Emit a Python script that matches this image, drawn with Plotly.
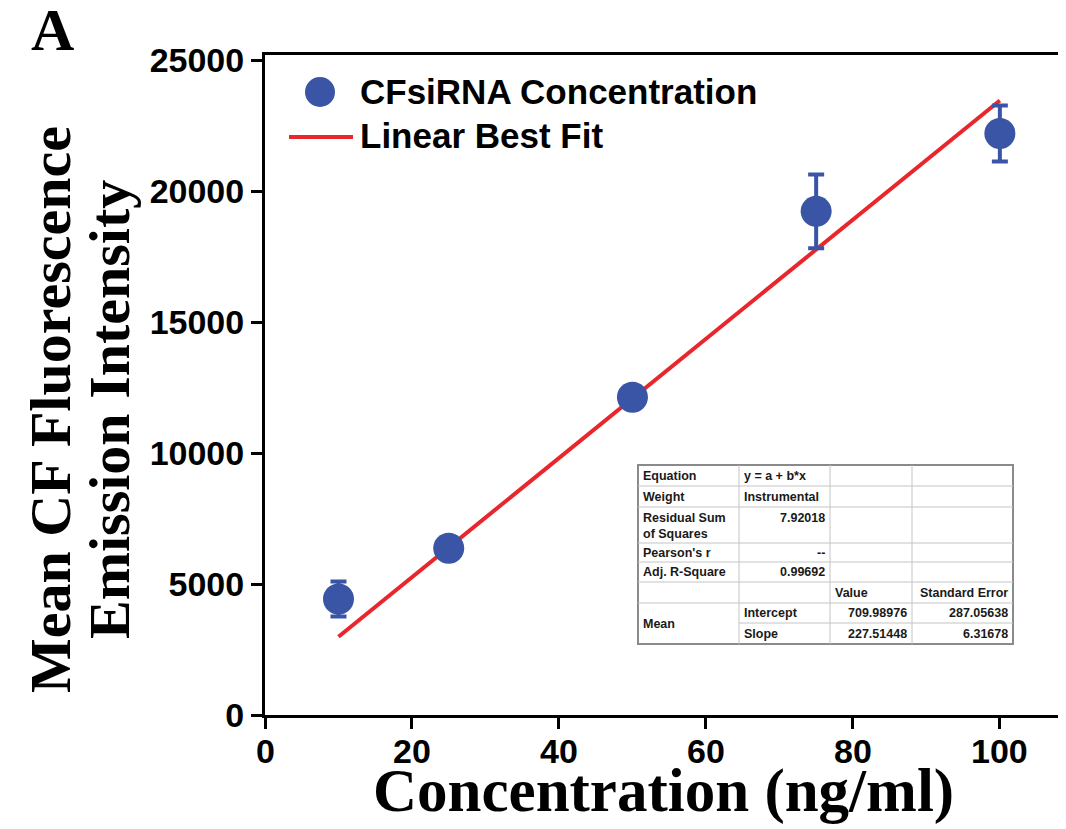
import plotly.graph_objects as go

# ---------------- data ----------------
concentration = [10, 25, 50, 75, 100]
mean_intensity = [4430, 6370, 12130, 19230, 22200]
intensity_err = [670, 150, 150, 1410, 1070]

fit_intercept = 709.98976
fit_slope = 227.51448
fit_x = [10, 100]
fit_y = [fit_intercept + fit_slope * x for x in fit_x]

x_ticks = [0, 20, 40, 60, 80, 100]
y_ticks = [0, 5000, 10000, 15000, 20000, 25000]

legend_labels = ["CFsiRNA Concentration", "Linear Best Fit"]

table_rows = [
    ["Equation", "y = a + b*x", "", ""],
    ["Weight", "Instrumental", "", ""],
    ["Residual Sum<br>of Squares", "7.92018", "", ""],
    ["Pearson's r", "--", "", ""],
    ["Adj. R-Square", "0.99692", "", ""],
    ["", "", "Value", "Standard Error"],
    ["Mean", "Intercept", "709.98976", "287.05638"],
    ["", "Slope", "227.51448", "6.31678"],
]
table_align = [
    ["left", "left", "left", "left"],
    ["left", "left", "left", "left"],
    ["left", "right", "left", "left"],
    ["left", "right", "left", "left"],
    ["left", "right", "left", "left"],
    ["left", "left", "left", "right"],
    ["left", "left", "right", "right"],
    ["left", "left", "right", "right"],
]

# ---------------- layout geometry (pixels) ----------------
OFF = 8                       # page body margin of the browser
W, H = 1066 - OFF, 829 - OFF  # figure size
L, R = 265 - OFF, 0
T = 55 - OFF
B = H - (715 - OFF)
PW, PH = W - L - R, H - T - B


def px(x_img):
    return (x_img - OFF - L) / PW


def py(y_img):
    return (H - B - (y_img - OFF)) / PH


MARK = "#3a54a6"
RED = "#e8262b"
SANS = "Liberation Sans, Arial, sans-serif"
SERIF = "Liberation Serif, Times New Roman, serif"
TICKFONT = dict(family=SANS, size=34, color="black", weight="bold")

fig = go.Figure()

fig.add_trace(go.Scatter(
    x=fit_x, y=fit_y, mode="lines", name=legend_labels[1],
    line=dict(color=RED, width=4), showlegend=False,
))
fig.add_trace(go.Scatter(
    x=concentration, y=mean_intensity, mode="markers", name=legend_labels[0],
    marker=dict(color=MARK, size=31, line=dict(width=0)),
    error_y=dict(type="data", array=intensity_err, color=MARK, thickness=4, width=8),
    showlegend=False,
))

shapes = []
annotations = []

# ---- manual legend ----
shapes.append(dict(type="circle", xref="paper", yref="paper",
                   xsizemode="pixel", ysizemode="pixel",
                   xanchor=px(320), yanchor=py(92), x0=-15, x1=15, y0=-15, y1=15,
                   fillcolor=MARK, line=dict(width=0)))
shapes.append(dict(type="line", xref="paper", yref="paper",
                   x0=px(289), x1=px(353), y0=py(137), y1=py(137),
                   line=dict(color=RED, width=4)))
for lbl, yy in zip(legend_labels, [92, 136]):
    annotations.append(dict(text=lbl, xref="paper", yref="paper", x=px(358), y=py(yy),
                            xanchor="left", yanchor="middle", showarrow=False,
                            font=dict(family=SANS, size=35, color="black", weight="bold")))

# ---- statistics table ----
col_edges = [638, 739, 830, 912, 1013]
row_edges = [465, 486, 507, 543, 562, 582, 603, 623, 644]
shapes.append(dict(type="rect", xref="paper", yref="paper",
                   x0=px(col_edges[0]), x1=px(col_edges[-1]),
                   y0=py(row_edges[0]), y1=py(row_edges[-1]),
                   fillcolor="white", line=dict(color="#8a8a8a", width=2), layer="above"))
for cx in col_edges[1:-1]:
    shapes.append(dict(type="line", xref="paper", yref="paper",
                       x0=px(cx), x1=px(cx), y0=py(row_edges[0]), y1=py(row_edges[-1]),
                       line=dict(color="#c4c4c4", width=1)))
for ry in row_edges[1:-1]:
    x0 = col_edges[1] if ry == 623 else col_edges[0]
    shapes.append(dict(type="line", xref="paper", yref="paper",
                       x0=px(x0), x1=px(col_edges[-1]), y0=py(ry), y1=py(ry),
                       line=dict(color="#c4c4c4", width=1)))

for r, row in enumerate(table_rows):
    top, bot = row_edges[r], row_edges[r + 1]
    for c, txt in enumerate(row):
        if not txt:
            continue
        al = table_align[r][c]
        xx = col_edges[c] + 3 if al == "left" else col_edges[c + 1] - 3
        if r == 2:
            yy, yan = top + 2, "top"
        elif txt == "Mean":
            yy, yan = (top + row_edges[r + 2]) / 2, "middle"
        else:
            yy, yan = (top + bot) / 2, "middle"
        annotations.append(dict(text=txt, xref="paper", yref="paper", x=px(xx), y=py(yy),
                                xanchor=al, yanchor=yan, align="left", showarrow=False,
                                font=dict(family=SANS, size=12.5, color="#1a1a1a", weight="bold")))

# ---- x tick labels (placed close to the axis, as in the reference) ----
for v in x_ticks:
    annotations.append(dict(text=str(v), xref="x", yref="paper", x=v, y=py(751),
                            xanchor="center", yanchor="middle", showarrow=False,
                            font=TICKFONT))

# ---- titles ----
annotations.append(dict(text="Concentration (ng/ml)", xref="paper", yref="paper",
                        x=px(663), y=py(791), xanchor="center", yanchor="middle", showarrow=False,
                        font=dict(family=SERIF, size=61, color="black", weight="bold")))
for txt, xx in [("Mean CF Fluorescence", 50), ("Emission Intensity", 109)]:
    annotations.append(dict(text=txt, xref="paper", yref="paper", x=px(xx), y=py(410),
                            xanchor="center", yanchor="middle", textangle=-90, showarrow=False,
                            font=dict(family=SERIF, size=58, color="black", weight="bold")))
annotations.append(dict(text="A", xref="paper", yref="paper", x=px(52), y=py(30),
                        xanchor="center", yanchor="middle", showarrow=False,
                        font=dict(family=SERIF, size=60, color="black", weight="bold")))

fig.update_layout(
    width=W, height=H,
    margin=dict(l=L, r=R, t=T, b=B, pad=0, autoexpand=False),
    paper_bgcolor="white", plot_bgcolor="white",
    shapes=shapes, annotations=annotations,
    showlegend=False,
)
fig.update_xaxes(
    range=[0, 109], tickvals=x_ticks, showticklabels=False,
    showgrid=False, zeroline=False, automargin=False,
    showline=True, linecolor="black", linewidth=3, mirror=True,
    ticks="outside", ticklen=11, tickwidth=3, tickcolor="black",
)
fig.update_yaxes(
    range=[0, 25200], tickvals=y_ticks, ticktext=[str(v) for v in y_ticks],
    showgrid=False, zeroline=False, automargin=False,
    showline=True, linecolor="black", linewidth=3,
    ticks="outside", ticklen=11, tickwidth=3, tickcolor="black",
    tickfont=TICKFONT,
)

fig.write_html("out.html")
